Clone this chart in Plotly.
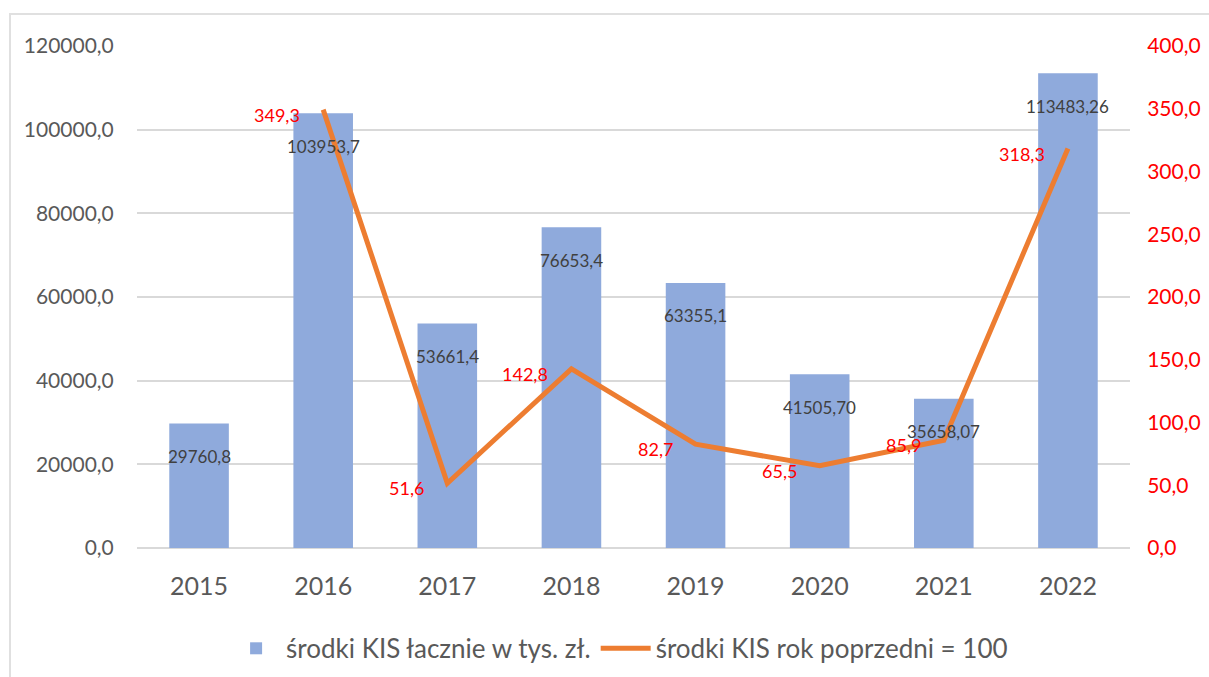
import plotly.graph_objects as go

years = ["2015", "2016", "2017", "2018", "2019", "2020", "2021", "2022"]
funds = [29760.8, 103953.7, 53661.4, 76653.4, 63355.1, 41505.70, 35658.07, 113483.26]
fund_labels = ["29760,8", "103953,7", "53661,4", "76653,4", "63355,1", "41505,70", "35658,07", "113483,26"]
index_vals = [None, 349.3, 51.6, 142.8, 82.7, 65.5, 85.9, 318.3]
index_labels = ["", "349,3", "51,6", "142,8", "82,7", "65,5", "85,9", "318,3"]
left_ticks = [0, 20000, 40000, 60000, 80000, 100000, 120000]
left_tick_labels = ["0,0", "20000,0", "40000,0", "60000,0", "80000,0", "100000,0", "120000,0"]
right_ticks = [0, 50, 100, 150, 200, 250, 300, 350, 400]
right_tick_labels = ["0,0", "50,0", "100,0", "150,0", "200,0", "250,0", "300,0", "350,0", "400,0"]

FONT = "Lato, Carlito, 'Open Sans', sans-serif"

fig = go.Figure()
fig.add_trace(go.Bar(
    x=years, y=funds, name="środki KIS łacznie w tys. zł.",
    marker=dict(color="#8faadc", line=dict(width=0)),
))
fig.add_trace(go.Scatter(
    x=years, y=index_vals, name="środki KIS rok poprzedni = 100",
    mode="lines", line=dict(color="#ed7d31", width=5), yaxis="y2",
))

ann = []
for i, (v, t) in enumerate(zip(funds, fund_labels)):
    ann.append(dict(x=i, y=v, xref="x", yref="y", text=t, showarrow=False,
                    yshift=-33, font=dict(family=FONT, size=17, color="#404040")))
for i, (v, t) in enumerate(zip(index_vals, index_labels)):
    if v is None:
        continue
    ann.append(dict(x=i, y=v, xref="x", yref="y2", text=t, showarrow=False,
                    xanchor="right", xshift=-21, yshift=-5,
                    font=dict(family=FONT, size=18, color="#ff0000")))

fig.update_layout(
    width=1209, height=677,
    margin=dict(l=137, r=79, t=46, b=129, autoexpand=False),
    paper_bgcolor="white", plot_bgcolor="white",
    font=dict(family=FONT, size=18, color="#595959"),
    bargap=0.52,
    xaxis=dict(type="category", categoryorder="array", categoryarray=years,
               range=[-0.5, len(years) - 0.5],
               showgrid=False, showline=False, ticks="outside", ticklen=16,
               tickcolor="rgba(0,0,0,0)", automargin=False,
               tickfont=dict(size=25, color="#595959")),
    yaxis=dict(range=[0, 120000], tickmode="array", tickvals=left_ticks, ticktext=left_tick_labels,
               showgrid=True, automargin=False,
               gridcolor="#d9d9d9", gridwidth=1.5, zeroline=True, zerolinecolor="#d9d9d9",
               zerolinewidth=1.5, ticks="outside", ticklen=18, tickcolor="rgba(0,0,0,0)",
               tickfont=dict(size=21, color="#595959")),
    yaxis2=dict(range=[0, 400], tickmode="array", tickvals=right_ticks, ticktext=right_tick_labels,
                overlaying="y", side="right",
                showgrid=False, zeroline=False, ticks="outside", ticklen=12,
                tickcolor="rgba(0,0,0,0)", automargin=False,
                tickfont=dict(size=21, color="#ff0000")),
    legend=dict(orientation="h", x=0.486, xanchor="center", y=-0.2, yanchor="middle",
                font=dict(size=26, color="#595959"), traceorder="normal", itemwidth=50),
    annotations=ann,
    shapes=[dict(type="rect", xref="paper", yref="paper",
                 x0=(10 - 137) / 993, x1=1.2, y0=-0.5, y1=(548 - 14) / 502,
                 line=dict(color="#e0e0e0", width=2), fillcolor="rgba(0,0,0,0)", layer="below")],
)

fig.write_html("out.html", config={"displayModeBar": False},
               post_script="document.body.style.margin='0';")
